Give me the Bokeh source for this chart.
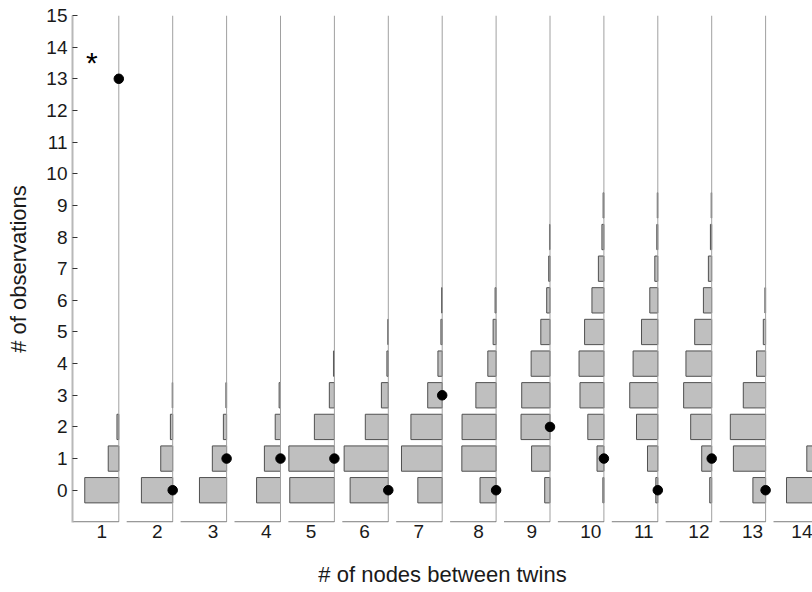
from bokeh.plotting import figure
from bokeh.models import (ColumnDataSource, FixedTicker, Label, Range1d,
                          LinearAxis, CustomJSTickFormatter)
from bokeh.embed import file_html
from bokeh.resources import INLINE

# number of nodes separating the twins: one small histogram panel each
node_gaps = ["1", "2", "3", "4", "5", "6", "7", "8", "9", "10", "11", "12", "13", "14"]

# observed number of twin pairs at each separation
observed = [13, 0, 1, 1, 1, 0, 3, 0, 2, 1, 0, 1, 0, 0]

# null (randomised) distribution of the number of observations, 0, 1, 2, ...
# relative frequency, scaled so that 1.0 spans a whole panel
null_freq = [
    [0.74, 0.23, 0.04],
    [0.68, 0.26, 0.05, 0.01],
    [0.59, 0.31, 0.07, 0.015],
    [0.52, 0.35, 0.115, 0.03],
    [0.97, 0.99, 0.435, 0.11, 0.02],
    [0.83, 0.96, 0.50, 0.15, 0.03, 0.01],
    [0.53, 0.885, 0.68, 0.315, 0.093, 0.028, 0.015],
    [0.35, 0.745, 0.74, 0.44, 0.18, 0.065, 0.022],
    [0.115, 0.40, 0.63, 0.615, 0.41, 0.20, 0.072, 0.028, 0.011],
    [0.022, 0.15, 0.35, 0.52, 0.54, 0.42, 0.26, 0.12, 0.043, 0.017],
    [0.043, 0.224, 0.463, 0.61, 0.537, 0.354, 0.174, 0.065, 0.022, 0.011],
    [0.043, 0.217, 0.457, 0.61, 0.56, 0.37, 0.18, 0.072, 0.028, 0.011],
    [0.276, 0.70, 0.767, 0.485, 0.196, 0.05, 0.015],
    [0.717, 0.276, 0.043],
]

# ---- panel layout (x unit = distance between neighbouring panels) ----
PX = 53.9                 # pixels per panel step
PANEL_W = 46.0 / PX       # width of one panel
BAR_H = 0.8
label_shift_px = [-17, -15.5, -13.5, -14.3, -23.3, -23.7, -23.4,
                  -17.6, -18.3, -13.2, -14, -12.8, -13, -17]

FONT = "Liberation Sans"
TEXT = "#1a1a1a"

right_edges = [i + 1 for i in range(len(node_gaps))]

bars = dict(y=[], left=[], right=[])
for r, freqs in zip(right_edges, null_freq):
    for k, f in enumerate(freqs):
        bars["y"].append(k)
        bars["left"].append(r - f * PANEL_W)
        bars["right"].append(r)

p = figure(
    width=812, height=592,
    x_range=Range1d(1 - 46.3 / PX, 1 + (812 - 118.3) / PX),
    y_range=Range1d(-1.02, 15),
    output_backend="svg", toolbar_location=None,
    x_axis_location=None,
    min_border_left=72, min_border_right=0,
    min_border_top=15, min_border_bottom=70,
)
p.outline_line_color = None
p.xgrid.visible = False
p.ygrid.visible = False
p.background_fill_color = "white"
p.border_fill_color = "white"

ax = p.yaxis[0]
ax.ticker = FixedTicker(ticks=list(range(16)))
ax.major_tick_in = 5
ax.major_tick_out = 0
ax.minor_tick_line_color = None
ax.axis_line_color = "#b8b8b8"
ax.axis_line_width = 2
ax.major_tick_line_color = "#333333"
ax.major_label_text_font = FONT
ax.major_label_text_font_size = "19px"
ax.major_label_text_color = TEXT
ax.major_label_standoff = 5
ax.axis_label = "# of observations"
ax.axis_label_text_font = FONT
ax.axis_label_text_font_style = "normal"
ax.axis_label_text_font_size = "22px"
ax.axis_label_text_color = TEXT
ax.axis_label_standoff = 12

# panel labels along the bottom, one under each panel
label_pos = [r + s / PX for r, s in zip(right_edges, label_shift_px)]
xax = LinearAxis(
    ticker=FixedTicker(ticks=label_pos, minor_ticks=[]),
    formatter=CustomJSTickFormatter(args=dict(names=node_gaps), code="return names[index]"),
    axis_line_color=None, major_tick_line_color=None, minor_tick_line_color=None,
    major_tick_in=0, major_tick_out=0,
    major_label_standoff=2,
    major_label_text_font=FONT, major_label_text_font_size="19px",
    major_label_text_color=TEXT,
    axis_label="# of nodes between twins",
    axis_label_text_font=FONT, axis_label_text_font_style="normal",
    axis_label_text_font_size="22px", axis_label_text_color=TEXT,
    axis_label_standoff=21,
)
p.add_layout(xax, "below")

# null-distribution histograms, bars growing leftwards from each panel's right edge
p.hbar(y="y", left="left", right="right", height=BAR_H, source=ColumnDataSource(bars),
       fill_color="#bfbfbf", line_color="#505050", line_width=1)

# panel right edges and bottom axes
p.segment(x0=right_edges, y0=[-1] * 14, x1=right_edges, y1=[15] * 14,
          line_color="#a0a0a0", line_width=1)
p.segment(x0=[r - PANEL_W for r in right_edges], y0=[-1] * 14,
          x1=right_edges, y1=[-1] * 14, line_color="#606060", line_width=1)

# observed values
p.scatter(x=right_edges, y=observed, size=9.5, color="black")

# significance mark
p.add_layout(Label(x=1 - 27 / PX, y=13.5, text="*", text_font=FONT,
                   text_font_size="30px", text_align="center", text_baseline="middle",
                   text_color="black"))

open("out.html", "w").write(file_html(p, INLINE))
